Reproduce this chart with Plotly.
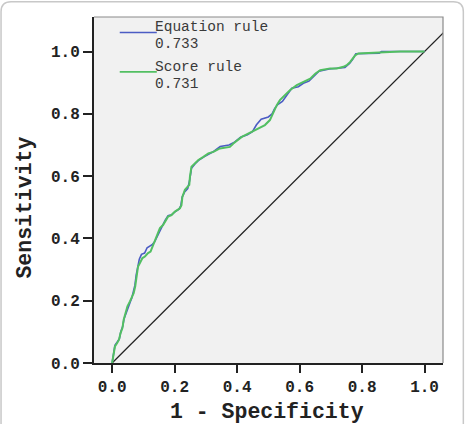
import plotly.graph_objects as go

# ---- data ----
green_fpr = [0, 0.009, 0.016, 0.022, 0.027, 0.033, 0.037, 0.044, 0.049, 0.057, 0.062, 0.069, 0.074,
             0.078, 0.083, 0.089, 0.097, 0.105, 0.115, 0.123, 0.129, 0.137, 0.147, 0.153, 0.163, 0.174,
             0.179, 0.190, 0.201, 0.217, 0.222, 0.225, 0.233, 0.247, 0.249, 0.254, 0.265, 0.276, 0.292,
             0.308, 0.324, 0.345, 0.377, 0.388, 0.415, 0.436, 0.452, 0.468, 0.489, 0.505, 0.516, 0.527,
             0.537, 0.553, 0.569, 0.591, 0.612, 0.634, 0.650, 0.666, 0.698, 0.719, 0.740, 0.751, 0.762,
             0.778, 0.788, 0.826, 0.863, 0.922, 1.0]
green_tpr = [0, 0.053, 0.064, 0.075, 0.096, 0.112, 0.139, 0.160, 0.182, 0.198, 0.208, 0.224, 0.246,
             0.278, 0.310, 0.321, 0.337, 0.342, 0.353, 0.358, 0.374, 0.395, 0.417, 0.433, 0.443, 0.459,
             0.470, 0.475, 0.486, 0.497, 0.507, 0.534, 0.556, 0.572, 0.598, 0.630, 0.641, 0.652, 0.662,
             0.673, 0.678, 0.689, 0.694, 0.705, 0.726, 0.737, 0.743, 0.753, 0.764, 0.780, 0.807, 0.828,
             0.844, 0.860, 0.876, 0.892, 0.903, 0.913, 0.929, 0.940, 0.946, 0.946, 0.951, 0.956, 0.967,
             0.988, 0.994, 0.996, 0.999, 1.0, 1.0]

blue_fpr = [0, 0.009, 0.017, 0.023, 0.028, 0.034, 0.038, 0.045, 0.051, 0.058, 0.063, 0.068, 0.073,
            0.077, 0.082, 0.087, 0.094, 0.104, 0.112, 0.120, 0.128, 0.136, 0.144, 0.152, 0.160, 0.170,
            0.179, 0.190, 0.201, 0.214, 0.220, 0.224, 0.232, 0.242, 0.248, 0.254, 0.265, 0.278, 0.294,
            0.310, 0.326, 0.346, 0.374, 0.390, 0.411, 0.433, 0.449, 0.462, 0.477, 0.500, 0.512, 0.520,
            0.530, 0.545, 0.560, 0.575, 0.596, 0.612, 0.630, 0.647, 0.662, 0.695, 0.720, 0.745, 0.760,
            0.770, 0.780, 0.830, 0.855, 0.862, 1.0]
blue_tpr = [0, 0.057, 0.068, 0.077, 0.101, 0.118, 0.141, 0.163, 0.179, 0.196, 0.209, 0.228, 0.250,
            0.282, 0.314, 0.333, 0.349, 0.353, 0.370, 0.376, 0.380, 0.389, 0.406, 0.425, 0.441, 0.459,
            0.473, 0.476, 0.485, 0.494, 0.505, 0.532, 0.549, 0.560, 0.586, 0.625, 0.639, 0.652, 0.662,
            0.671, 0.680, 0.695, 0.700, 0.708, 0.725, 0.733, 0.743, 0.765, 0.783, 0.790, 0.800, 0.817,
            0.830, 0.840, 0.860, 0.882, 0.887, 0.898, 0.905, 0.921, 0.937, 0.944, 0.946, 0.949, 0.962,
            0.975, 0.993, 0.994, 0.995, 1.0, 1.0]

ref_x = [0, 1.1]
ref_y = [0, 1.1]

series_names = ["Equation rule", "Score rule"]
series_auc = ["0.733", "0.731"]
tick_vals = [0.0, 0.2, 0.4, 0.6, 0.8, 1.0]
tick_text = ["0.0", "0.2", "0.4", "0.6", "0.8", "1.0"]

BLUE = "#4b5cc4"
GREEN = "#52bf62"
FONT = "Liberation Mono, Courier New, monospace"

W, H = 465, 424
L, R, T, B = 94.3, 22.3, 16.7, 60.7
pw, ph = W - L - R, H - T - B


def px(x):
    return (x - L) / pw


def py(y):
    return (H - B - y) / ph


fig = go.Figure()
fig.add_trace(go.Scatter(x=ref_x, y=ref_y, mode="lines",
                         line=dict(color="#222222", width=1.3), showlegend=False, hoverinfo="skip"))
fig.add_trace(go.Scatter(x=blue_fpr, y=blue_tpr, mode="lines", name=series_names[0],
                         line=dict(color=BLUE, width=1.6), showlegend=False))
fig.add_trace(go.Scatter(x=green_fpr, y=green_tpr, mode="lines", name=series_names[1],
                         line=dict(color=GREEN, width=2), showlegend=False))

shapes = []
# top/right frame of plot area (gray)
shapes.append(dict(type="path", xref="paper", yref="paper",
                   path="M 0 1 L 1 1 L 1 0", line=dict(color="#8a8a8a", width=1.2)))
# legend lines
for yy, col in [(32.3, BLUE), (71.7, GREEN)]:
    shapes.append(dict(type="line", xref="paper", yref="paper",
                       x0=px(120), x1=px(157), y0=py(yy), y1=py(yy),
                       line=dict(color=col, width=1.6)))
# outer rounded border
r = 10
x0, x1, y0, y1 = px(1.5), px(463), py(1.5), py(440)
rx, ry = r / pw, r / ph
path = (f"M {x0} {y1} L {x0} {y0 - ry} Q {x0} {y0} {x0 + rx} {y0} "
        f"L {x1 - rx} {y0} Q {x1} {y0} {x1} {y0 - ry} L {x1} {y1}")
shapes.append(dict(type="path", xref="paper", yref="paper", path=path,
                   line=dict(color="#c8c8c8", width=1.5)))

annotations = []
legend_rows = [(26.8, series_names[0]), (44.0, series_auc[0]),
               (66.8, series_names[1]), (84.0, series_auc[1])]
for yy, txt in legend_rows:
    annotations.append(dict(xref="paper", yref="paper", x=px(155.5), y=py(yy),
                            xanchor="left", yanchor="middle", align="left", showarrow=False,
                            borderpad=0, borderwidth=0,
                            text=txt, font=dict(family=FONT, size=14.5, color="#3a3a3a")))
annotations.append(dict(xref="paper", yref="paper", x=px(267), y=py(412), xanchor="center",
                        yanchor="middle", showarrow=False, text="<b>1 - Specificity</b>",
                        font=dict(family=FONT, size=21.5, color="#222222")))
annotations.append(dict(xref="paper", yref="paper", x=px(25), y=py(208), xanchor="center",
                        yanchor="middle", showarrow=False, text="<b>Sensitivity</b>", textangle=-90,
                        font=dict(family=FONT, size=21.5, color="#222222")))

fig.update_layout(
    width=W, height=H,
    margin=dict(l=L, r=R, t=T, b=B),
    paper_bgcolor="white", plot_bgcolor="#f1f1f1",
    shapes=shapes, annotations=annotations,
    showlegend=False,
)
bold_ticks = [f"<b>{t}</b>" for t in tick_text]
fig.update_xaxes(range=[-0.058, 1.059], tickvals=tick_vals, ticktext=bold_ticks,
                 showgrid=False, zeroline=False, showline=True, linecolor="#222222", linewidth=2,
                 ticks="outside", ticklen=8, tickwidth=2, tickcolor="#222222",
                 tickfont=dict(family=FONT, size=16, color="#222222"))
fig.update_yaxes(range=[0, 1.111], tickvals=tick_vals, ticktext=bold_ticks,
                 showgrid=False, zeroline=False, showline=True, linecolor="#222222", linewidth=2,
                 ticks="outside", ticklen=9, tickwidth=2, tickcolor="#222222",
                 tickfont=dict(family=FONT, size=16, color="#222222"))

fig.write_html("out.html")
